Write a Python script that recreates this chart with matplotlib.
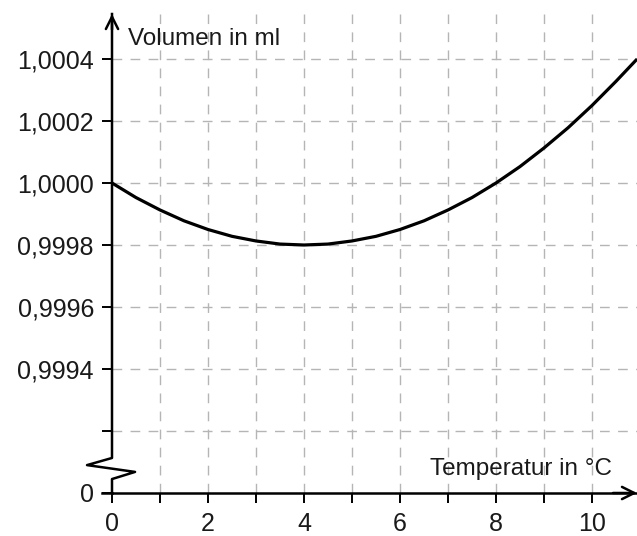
import matplotlib
matplotlib.use("Agg")
import matplotlib.pyplot as plt

plt.rcParams['font.family'] = ['Liberation Sans', 'DejaVu Sans']

# data
temperature = [0, 0.5, 1, 1.5, 2, 2.5, 3, 3.5, 4, 4.5, 5, 5.5, 6, 6.5,
               7, 7.5, 8, 8.5, 9, 9.5, 10, 10.5, 10.94]
volume = [1.000000, 0.999953, 0.999913, 0.999878, 0.999850, 0.999828,
          0.999813, 0.999803, 0.999800, 0.999803, 0.999813, 0.999828,
          0.999850, 0.999878, 0.999913, 0.999953, 1.000000, 1.000053,
          1.000113, 1.000178, 1.000250, 1.000328, 1.000400]

x_ticks = list(range(0, 11))
x_labels = ['0', '', '2', '', '4', '', '6', '', '8', '', '10']
y_values = [0, 0.9992, 0.9994, 0.9996, 0.9998, 1.0000, 1.0002, 1.0004]
y_labels = ['0', '', '0,9994', '0,9996', '0,9998', '1,0000', '1,0002', '1,0004']


# broken axis: 0 stays at 0, 0,9992 .. 1,0004 mapped onto 2 .. 14
def to_axis(v):
    if v == 0:
        return 0
    return 10 + (v - 1.0) / 0.0001


W, H = 637, 536
fig = plt.figure(figsize=(W / 100, H / 100), dpi=100)
x0, y0, x1, y1 = 112, 493, 637, 14
ax = fig.add_axes([x0 / W, (H - y0) / H, (x1 - x0) / W, (y0 - y1) / H])
xmax = (x1 - x0) / 48
ymax = (y0 - y1) / 31
ax.set_xlim(0, xmax)
ax.set_ylim(0, ymax)

ax.plot(temperature, [to_axis(v) for v in volume], color='black', lw=2.3,
        zorder=3, solid_capstyle='butt', solid_joinstyle='round')

ax.set_xticks(x_ticks)
ax.set_xticklabels(x_labels)
ax.set_yticks([to_axis(v) for v in y_values])
ax.set_yticklabels(y_labels)
ax.tick_params(axis='both', labelsize=18, colors='black', labelcolor='#1a1a1a')
ax.tick_params(axis='y', length=7, width=1.4, pad=6)
ax.tick_params(axis='x', length=7, width=1.4, pad=6.5)

ax.grid(True, ls=(0, (7, 6)), color='#b5b5b5', lw=1)
ax.set_axisbelow(True)
ax.get_xgridlines()[0].set_visible(False)
ax.get_ygridlines()[0].set_visible(False)

for s in ['top', 'right', 'left']:
    ax.spines[s].set_visible(False)
ax.spines['bottom'].set_linewidth(1.8)

# left axis with zigzag break
zx = [0, 0, -0.52, 0.48, 0, 0]
zy = [ymax, 1.13, 0.9, 0.68, 0.45, 0]
ax.plot(zx, zy, color='black', lw=1.8, clip_on=False, zorder=4)
ax.plot([-0.2, 0], [0, 0], color='black', lw=1.8, clip_on=False, zorder=4)

# arrow heads
ax.annotate('', xy=(0, ymax), xytext=(0, ymax - 0.5),
            arrowprops=dict(arrowstyle='->', lw=1.8, color='black',
                            mutation_scale=22, shrinkA=0, shrinkB=0),
            annotation_clip=False)
ax.annotate('', xy=(xmax, 0), xytext=(xmax - 0.5, 0),
            arrowprops=dict(arrowstyle='->', lw=1.8, color='black',
                            mutation_scale=22, shrinkA=0, shrinkB=0),
            annotation_clip=False)

fig.text(128 / W, 1 - 45 / H, 'Volumen in ml', fontsize=17.5,
         color='#1a1a1a', va='baseline', ha='left')
fig.text(612 / W, 1 - 475 / H, 'Temperatur in °C', fontsize=17.5,
         color='#1a1a1a', va='baseline', ha='right')

fig.savefig('out.png', dpi=100)
